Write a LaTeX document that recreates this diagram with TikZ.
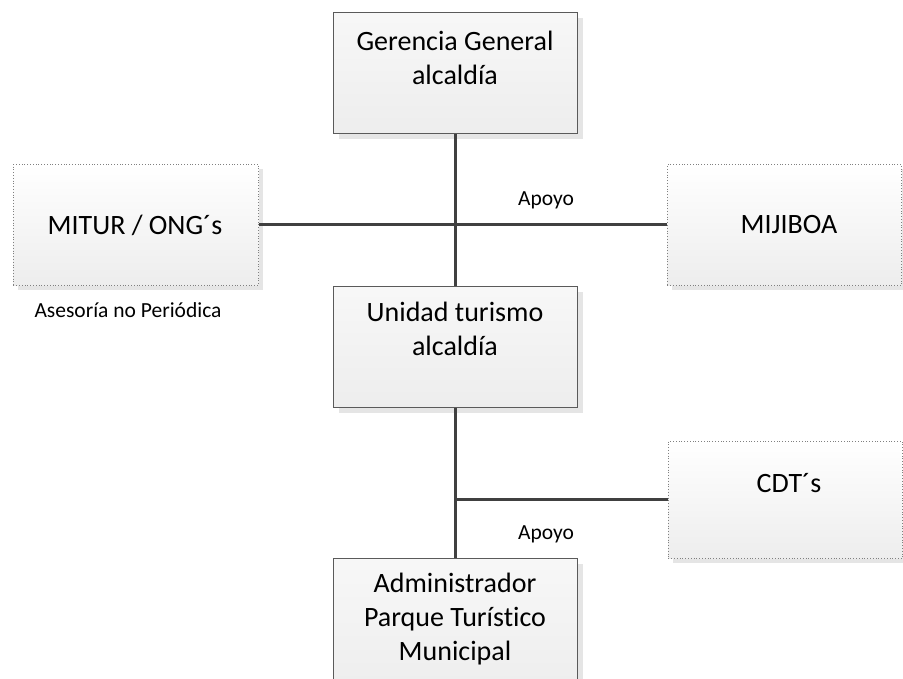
\documentclass[tikz,border=0pt]{standalone}
\usepackage{fontspec}
\setmainfont{Carlito}[Ligatures=NoCommon]
\usetikzlibrary{shadows}
\definecolor{linec}{HTML}{404040}
\definecolor{boxborder}{HTML}{5A5A5A}
\begin{document}
\begin{tikzpicture}[x=1pt,y=-1pt,
  shad/.style={general shadow={fill=black!10, shadow xshift=5pt, shadow yshift=-5pt}},
  solidbox/.style={draw=boxborder, line width=1.1pt, top color=black!3, bottom color=black!7, shad, anchor=north west, inner sep=0pt},
  dotbox/.style={draw=black!50, dotted, line width=0.8pt, top color=white, bottom color=black!7, shad, anchor=north west, inner sep=0pt},
  boxtext/.style={font=\fontsize{28}{34}\selectfont, align=center, inner sep=0pt},
  lbl/.style={font=\fontsize{21.5}{24}\selectfont, inner sep=0pt},
  conn/.style={draw=linec, line width=3pt}]
\useasboundingbox (0,0) rectangle (903,679);
\clip (0,0) rectangle (903,679);
% boxes
\node[solidbox, minimum width=244pt, minimum height=121pt] (g) at (333,12) {};
\node[solidbox, minimum width=244pt, minimum height=121pt] (u) at (333,286) {};
\node[solidbox, minimum width=244pt, minimum height=135pt] (a) at (333,558) {};
\node[dotbox, minimum width=245pt, minimum height=121pt] (m) at (13,164) {};
\node[dotbox, minimum width=234pt, minimum height=121pt] (j) at (667,164) {};
\node[dotbox, minimum width=234pt, minimum height=117pt] (c) at (668,441) {};
% connectors
\draw[conn] (g.south) -- (u.north);
\draw[conn] (m.east) -- (j.west);
\draw[conn] (u.south) -- (a.north);
\coordinate (jn) at (u.south |- c.west);
\draw[conn] (jn) -- (c.west);
% texts
\node[boxtext] (gt) at (455,58) {Gerencia General\\alcaldía};
\node[boxtext] (ut) at (455,329) {Unidad turismo\\alcaldía};
\node[boxtext] (at) at (455,619) {Administrador\\Parque Turístico\\Municipal};
\node[boxtext] (mt) at (135,225) {MITUR / ONG´s};
\node[boxtext] (jt) at (789,225) {MIJIBOA};
\node[boxtext] (ct) at (789,483) {CDT´s};
% labels
\node[lbl] (l1) at (546,200) {Apoyo};
\node[lbl] (l2) at (546,534) {Apoyo};
\node[lbl] (l3) at (128,310) {Asesoría no Periódica};
\end{tikzpicture}
\end{document}
